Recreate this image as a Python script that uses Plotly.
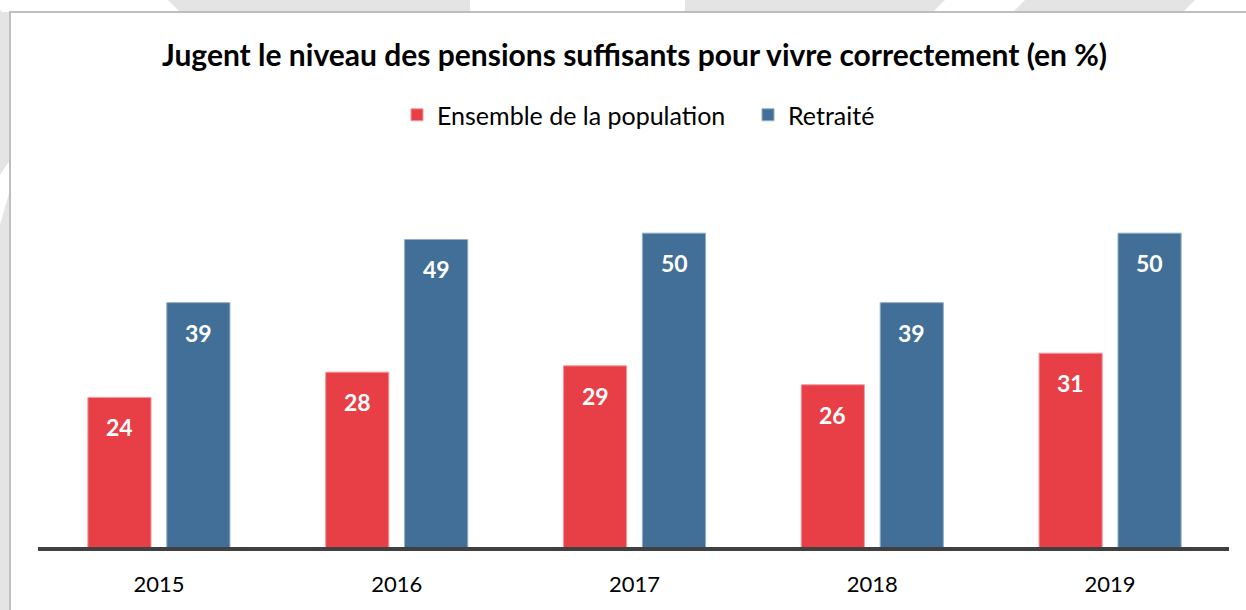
import plotly.graph_objects as go

# ---- data ----
years = ["2015", "2016", "2017", "2018", "2019"]
ensemble = [24, 28, 29, 26, 31]
retraite = [39, 49, 50, 39, 50]
series_names = ["Ensemble de la population", "Retraité"]
title_text = "Jugent le niveau des pensions suffisants pour vivre correctement (en %)"

# ---- styling ----
W, H = 1246, 610
OFF = 0  # page body margin removed via post_script
ML, MR, MT, MB = 40 - OFF, 17 + OFF, 170 - OFF, 61 + OFF
PW, PH = W - ML - MR, H - MT - MB
RED, RED_EDGE = "#E83E46", "#F29AA0"
BLUE, BLUE_EDGE = "#426F97", "#93AEC6"
FONT = "Lato"

def px_x(sx):
    return (sx - OFF - ML) / PW

def px_y(sy):
    return (H - MB - (sy - OFF)) / PH

fig = go.Figure()
fig.add_trace(go.Bar(x=years, y=ensemble, name=series_names[0],
                     marker=dict(color=RED, line=dict(color=RED_EDGE, width=1))))
fig.add_trace(go.Bar(x=years, y=retraite, name=series_names[1],
                     marker=dict(color=BLUE, line=dict(color=BLUE_EDGE, width=1))))

annotations = []
for vals, shift in ((ensemble, -39.5), (retraite, 39.5)):
    for i, v in enumerate(vals):
        annotations.append(dict(x=i, y=v, xref="x", yref="y", text=f"<b>{v}</b>",
                                showarrow=False, xshift=shift, yshift=-30,
                                font=dict(family=FONT, size=23, color="white")))

shapes = []
# background stripes (outside chart box)
def band(x0, x1, y0, y1, shift):
    return dict(type="path", xref="paper", yref="paper", layer="below",
                path=f"M{px_x(x0+shift)},{px_y(y0)} L{px_x(x1+shift)},{px_y(y0)} "
                     f"L{px_x(x1)},{px_y(y1)} L{px_x(x0)},{px_y(y1)} Z",
                fillcolor="white", line=dict(width=0))
shapes.append(band(-10, 168, 12, 0, 12))
shapes.append(band(470, 685, 12, 0, 0))
shapes.append(band(945, 1025, 12, 0, -12))
shapes.append(band(1195, 1300, 12, 0, -12))
shapes.append(dict(type="path", xref="paper", yref="paper", layer="below",
                   path=f"M{px_x(0)},{px_y(225)} L{px_x(10)},{px_y(190)} L{px_x(10)},{px_y(160)} L{px_x(0)},{px_y(175)} Z",
                   fillcolor="white", line=dict(width=0)))
# chart box
shapes.append(dict(type="rect", xref="paper", yref="paper", layer="below",
                   x0=px_x(10), x1=px_x(1270), y0=px_y(12), y1=px_y(640),
                   fillcolor="white", line=dict(color="#BEBEBE", width=2)))
# baseline
shapes.append(dict(type="line", xref="paper", yref="paper", x0=px_x(38), x1=1.0,
                   y0=0, y1=0, line=dict(color="#404040", width=4), layer="above"))

fig.update_layout(
    width=W, height=H,
    margin=dict(l=ML, r=MR, t=MT, b=MB, pad=0, autoexpand=False),
    paper_bgcolor="#E4E4E4",
    plot_bgcolor="rgba(0,0,0,0)",
    barmode="group", bargap=0.336, bargroupgap=0.2,
    font=dict(family=FONT, color="black"),
    title=dict(text=f"<b>{title_text}</b>", x=0.5, xref="paper", xanchor="center",
               y=1 - (55 - OFF) / H, yanchor="middle",
               font=dict(family=FONT, size=30, color="black")),
    legend=dict(orientation="h", x=px_x(397), xanchor="left", y=px_y(115), yanchor="middle",
                font=dict(family=FONT, size=25), bgcolor="rgba(0,0,0,0)",
                entrywidth=306, entrywidthmode="pixels", traceorder="normal"),
    xaxis=dict(type="category", range=[-0.5, len(years) - 0.5], autorange=False,
               automargin=False, showgrid=False, zeroline=False, showline=False,
               ticks="outside", ticklen=16, tickcolor="rgba(0,0,0,0)",
               tickfont=dict(family=FONT, size=22)),
    yaxis=dict(range=[0, 60], autorange=False, visible=False, showgrid=False,
               zeroline=False, automargin=False),
    shapes=shapes,
    annotations=annotations,
    showlegend=True,
)

fig.write_html("out.html", config={"displayModeBar": False},
               post_script="document.body.style.margin='0px';document.body.style.background='#E4E4E4';")
